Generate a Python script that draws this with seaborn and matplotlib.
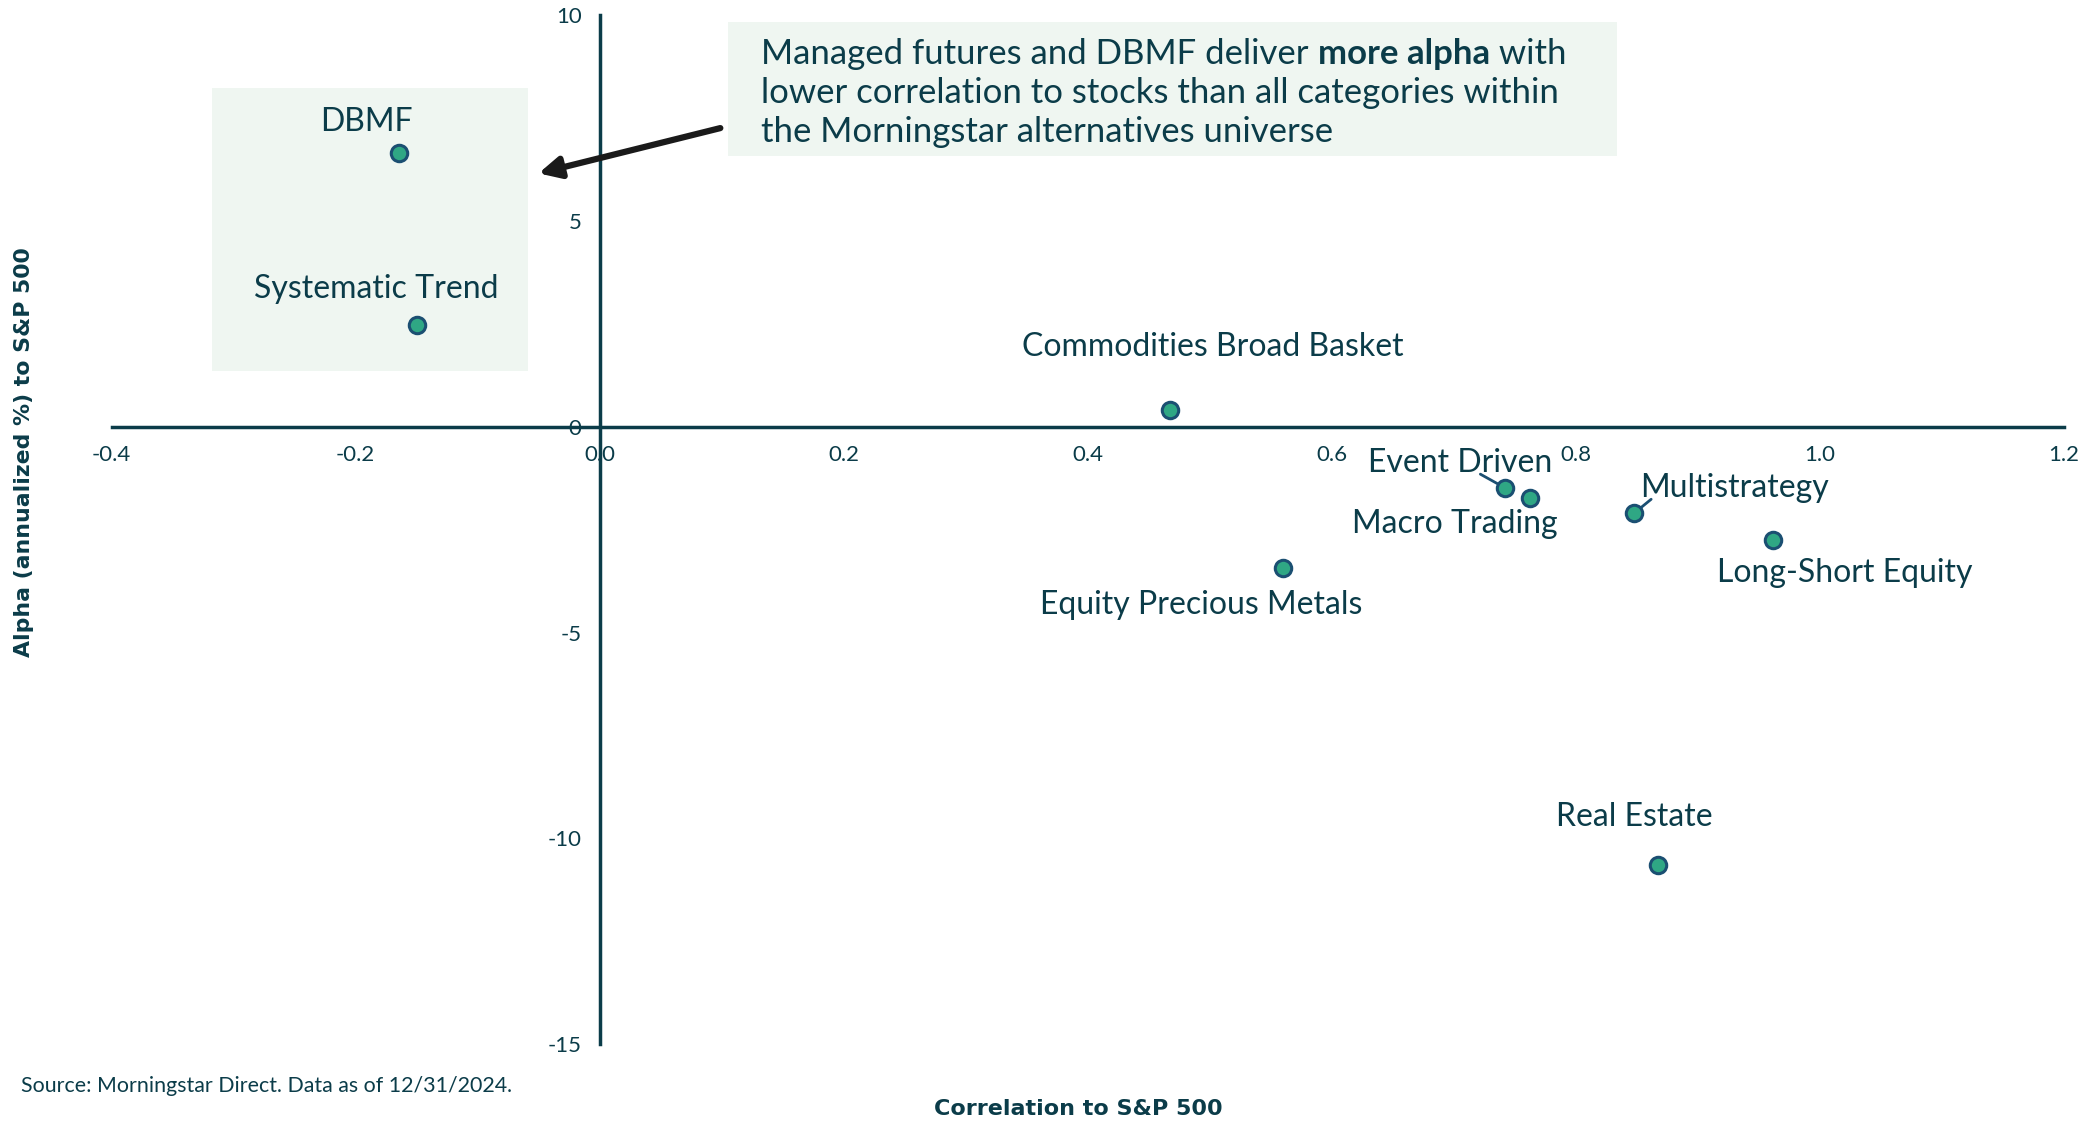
"""
Alpha vs correlation to S&P 500 scatter (Morningstar alternatives universe).
"""

import matplotlib
matplotlib.use("Agg")
import matplotlib.pyplot as plt
from matplotlib.patches import Rectangle
from matplotlib.offsetbox import TextArea, HPacker, VPacker, AnnotationBbox
import pandas as pd
import seaborn as sns

# data
categories = ["DBMF", "Systematic Trend", "Commodities Broad Basket",
              "Equity Precious Metals", "Event Driven", "Macro Trading",
              "Multistrategy", "Long-Short Equity", "Real Estate"]
correlation = [-0.164, -0.150, 0.468, 0.560, 0.742, 0.763, 0.848, 0.962, 0.868]
alpha = [6.65, 2.48, 0.42, -3.42, -1.48, -1.74, -2.10, -2.74, -10.65]

x_ticks = [-0.4, -0.2, 0.0, 0.2, 0.4, 0.6, 0.8, 1.0, 1.2]
y_ticks = [10, 5, 0, -5, -10, -15]

# label placement (data coords, centre of text)
label_pos = {
    "DBMF": (-0.191, 7.4),
    "Systematic Trend": (-0.183, 3.35),
    "Commodities Broad Basket": (0.503, 1.95),
    "Event Driven": (0.705, -0.88),
    "Macro Trading": (0.701, -2.36),
    "Multistrategy": (0.930, -1.49),
    "Long-Short Equity": (1.021, -3.56),
    "Equity Precious Metals": (0.493, -4.33),
    "Real Estate": (0.848, -9.49),
}
leaders = {
    "Event Driven": (0.722, -1.15),
    "Multistrategy": (0.862, -1.76),
}

DARK = "#0b3c49"
FILL = "#2fa784"
EDGE = "#1b4f72"
MINT = "#eff6f1"

df = pd.DataFrame({"category": categories, "correlation": correlation, "alpha": alpha})

sns.set_style("white")
plt.rcParams["font.family"] = ["Lato", "DejaVu Sans"]
plt.rcParams["axes.unicode_minus"] = False

fig = plt.figure(figsize=(20.81, 11.28), dpi=100)
ax = fig.add_axes([0.0536, 0.0744, 0.938, 0.912])

# highlight box behind DBMF / Systematic Trend
ax.add_patch(Rectangle((-0.318, 1.35), 0.259, 6.88, facecolor=MINT,
                       edgecolor="none", zorder=0))

# leader lines
for name, (lx, ly) in leaders.items():
    i = categories.index(name)
    ax.plot([correlation[i], lx], [alpha[i], ly], color=EDGE, lw=2, zorder=2)

sns.scatterplot(data=df, x="correlation", y="alpha", ax=ax, s=140,
                color=FILL, edgecolor=EDGE, linewidth=2.2, zorder=3)

for name, (tx, ty) in label_pos.items():
    ax.text(tx, ty, name, ha="center", va="center", fontsize=23, color=DARK)

ax.set_xlim(-0.4, 1.2)
ax.set_ylim(-15, 10)
ax.set_xticks(x_ticks)
ax.set_xticklabels([f"{v:.1f}" for v in x_ticks])
ax.set_yticks(y_ticks)
ax.set_yticklabels([str(v) for v in y_ticks])

for side in ["top", "right"]:
    ax.spines[side].set_visible(False)
ax.spines["left"].set_position(("data", 0))
ax.spines["bottom"].set_position(("data", 0))
for side in ["left", "bottom"]:
    ax.spines[side].set_color(DARK)
    ax.spines[side].set_linewidth(2.5)
ax.tick_params(axis="both", direction="out", length=8, width=2.5, color=DARK,
               labelcolor=DARK, labelsize=16, pad=5)
ax.set_xlabel("")
ax.set_ylabel("")

# callout box
ax.add_patch(Rectangle((0.105, 6.58), 0.729, 3.26, facecolor=MINT,
                       edgecolor="none", zorder=0))
tp = dict(fontsize=25, color=DARK)
line1 = HPacker(children=[
    TextArea("Managed futures and DBMF deliver ", textprops=tp),
    TextArea("more alpha", textprops=dict(tp, fontweight="bold")),
    TextArea(" with", textprops=tp),
], align="baseline", pad=0, sep=0)
line2 = TextArea("lower correlation to stocks than all categories within", textprops=tp)
line3 = TextArea("the Morningstar alternatives universe", textprops=tp)
block = VPacker(children=[line1, line2, line3], align="left", pad=0, sep=5)
ab = AnnotationBbox(block, (0.1326, 9.45), xycoords="data", box_alignment=(0, 1),
                    frameon=False, pad=0)
ax.add_artist(ab)

ax.annotate("", xy=(-0.050, 6.16), xytext=(0.099, 7.26),
            arrowprops=dict(arrowstyle="-|>", lw=4.5, color="#1a1a1a",
                            mutation_scale=32, shrinkA=0, shrinkB=0))

fig.text(0.518, 0.0165, "Correlation to S&P 500", ha="center", va="center",
         fontsize=16, fontweight="bold", color=DARK, family="DejaVu Sans")
fig.text(0.0115, 0.599, "Alpha (annualized %) to S&P 500", ha="center", va="center",
         rotation=90, fontsize=15.8, fontweight="bold", color=DARK, family="DejaVu Sans")
fig.text(0.0102, 0.0376, "Source: Morningstar Direct. Data as of 12/31/2024.",
         ha="left", va="center", fontsize=15.4, color=DARK)

fig.savefig("out.png", dpi=100)
